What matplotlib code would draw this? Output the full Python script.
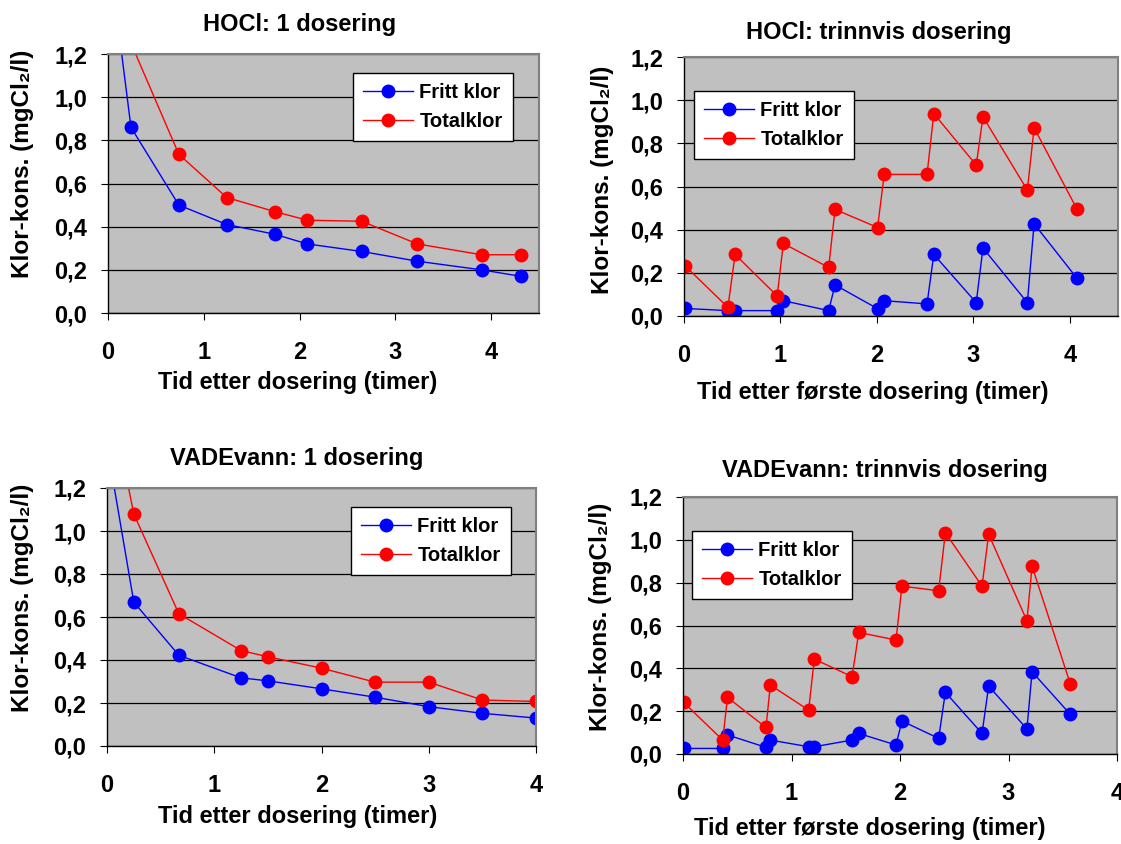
""" Klor-konsentrasjon etter dosering: HOCl og VADEvann, 1 dosering og trinnvis dosering. """
import matplotlib.pyplot as plt

# HOCl: 1 dosering
hocl1_t_fritt = [0.0, 0.24, 0.74, 1.24, 1.74, 2.08, 2.65, 3.23, 3.90, 4.31]
hocl1_fritt = [1.70, 0.86, 0.50, 0.41, 0.365, 0.32, 0.285, 0.24, 0.20, 0.17]
hocl1_t_total = [0.24, 0.74, 1.24, 1.74, 2.08, 2.65, 3.23, 3.90, 4.31]
hocl1_total = [1.25, 0.735, 0.535, 0.47, 0.43, 0.425, 0.32, 0.27, 0.27]

# HOCl: trinnvis dosering
hoclt_t = [0.01, 0.455, 0.53, 0.966, 1.03, 1.50, 1.566, 2.007, 2.076,
           2.52, 2.59, 3.03, 3.10, 3.56, 3.63, 4.076]
hoclt_fritt = [0.035, 0.025, 0.025, 0.025, 0.071, 0.025, 0.144, 0.034, 0.071,
               0.056, 0.285, 0.062, 0.315, 0.062, 0.427, 0.174]
hoclt_total = [0.233, 0.040, 0.285, 0.093, 0.336, 0.225, 0.494, 0.41, 0.656,
               0.656, 0.938, 0.699, 0.923, 0.583, 0.872, 0.494]

# VADEvann: 1 dosering
vade1_t = [0.0, 0.25, 0.67, 1.25, 1.5, 2.0, 2.5, 3.0, 3.5, 4.0]
vade1_fritt = [1.40, 0.669, 0.422, 0.317, 0.303, 0.266, 0.227, 0.183, 0.152, 0.130]
vade1_total = [1.70, 1.079, 0.615, 0.444, 0.415, 0.362, 0.297, 0.297, 0.214, 0.207]

# VADEvann: trinnvis dosering
vadet_t = [0.006, 0.366, 0.41, 0.765, 0.805, 1.158, 1.21, 1.558, 1.62,
           1.963, 2.018, 2.356, 2.418, 2.756, 2.817, 3.17, 3.217, 3.57]
vadet_fritt = [0.026, 0.026, 0.089, 0.031, 0.065, 0.034, 0.034, 0.065, 0.096,
               0.042, 0.154, 0.073, 0.288, 0.096, 0.317, 0.117, 0.384, 0.185]
vadet_total = [0.241, 0.065, 0.264, 0.124, 0.322, 0.205, 0.443, 0.361, 0.568,
               0.532, 0.784, 0.762, 1.033, 0.784, 1.026, 0.622, 0.877, 0.327]

y_ticks = [0.0, 0.2, 0.4, 0.6, 0.8, 1.0, 1.2]
y_ticklabels = ['0,0', '0,2', '0,4', '0,6', '0,8', '1,0', '1,2']
x_ticks = [0, 1, 2, 3, 4]

W, H = 1121, 844
FONT = ['Liberation Sans', 'DejaVu Sans']
plt.rcParams['font.family'] = FONT
plt.rcParams['font.weight'] = 'bold'


def px_rect(left, top, right, bottom):
    return [left / W, 1 - bottom / H, (right - left) / W, (bottom - top) / H]


def draw_panel(fig, rect, xmax, t_fritt, fritt, t_total, total, legend_xy,
               title, title_xy, xlabel, xlabel_xy, ylabel_xy):
    ax = fig.add_axes(rect)
    ax.set_facecolor('#C0C0C0')
    ax.plot(t_fritt, fritt, color='#0000FF', lw=1.0, marker='o', ms=9,
            label='Fritt klor')
    ax.plot(t_total, total, color='#FF0000', lw=1.0, marker='o', ms=9,
            label='Totalklor')
    ax.set_xlim(0, xmax)
    ax.set_ylim(0, 1.2)
    ax.set_yticks(y_ticks)
    ax.set_yticklabels(y_ticklabels)
    ax.set_xticks(x_ticks)
    ax.grid(axis='y', color='black', lw=0.9)
    ax.set_axisbelow(True)
    for side in ('top', 'right'):
        ax.spines[side].set_color('#808080')
        ax.spines[side].set_linewidth(1.5)
    for side in ('left', 'bottom'):
        ax.spines[side].set_color('black')
        ax.spines[side].set_linewidth(1.0)
    ax.tick_params(axis='y', length=5, pad=10, labelsize=17)
    ax.tick_params(axis='x', length=5, pad=15, labelsize=17)
    for lab in ax.get_xticklabels() + ax.get_yticklabels():
        lab.set_fontweight('bold')

    ax.legend(loc='upper left',
              bbox_to_anchor=(legend_xy[0] / W, 1 - legend_xy[1] / H),
              bbox_transform=fig.transFigure, borderaxespad=0,
              fancybox=False, framealpha=1, edgecolor='black',
              prop={'size': 14.5, 'weight': 'bold'}, handlelength=2.5,
              handletextpad=0.3, labelspacing=0.5, borderpad=0.5)

    fig.text(title_xy[0] / W, 1 - title_xy[1] / H, title, ha='center',
             va='center', fontsize=17, fontweight='bold')
    fig.text(xlabel_xy[0] / W, 1 - xlabel_xy[1] / H, xlabel, ha='center',
             va='center', fontsize=17, fontweight='bold')
    fig.text(ylabel_xy[0] / W, 1 - ylabel_xy[1] / H, 'Klor-kons. (mgCl₂/l)',
             ha='center', va='center', rotation=90, fontsize=17.5,
             fontweight='bold')
    return ax


def main():
    fig = plt.figure(figsize=(W / 100, H / 100), dpi=100)

    draw_panel(fig, px_rect(108, 54, 539, 313), 4.5,
               hocl1_t_fritt, hocl1_fritt, hocl1_t_total, hocl1_total,
               (353, 73), 'HOCl: 1 dosering', (300, 25),
               'Tid etter dosering (timer)', (298, 383), (23, 164))

    draw_panel(fig, px_rect(684, 57, 1118, 316), 4.5,
               hoclt_t, hoclt_fritt, hoclt_t, hoclt_total,
               (694, 91), 'HOCl: trinnvis dosering', (879, 32),
               'Tid etter første dosering (timer)', (873, 392), (602, 180))

    draw_panel(fig, px_rect(107, 488, 536, 746), 4.0,
               vade1_t, vade1_fritt, vade1_t, vade1_total,
               (351, 507), 'VADEvann: 1 dosering', (297, 458),
               'Tid etter dosering (timer)', (298, 817), (23, 598))

    draw_panel(fig, px_rect(683, 497, 1117, 754), 4.0,
               vadet_t, vadet_fritt, vadet_t, vadet_total,
               (692, 531), 'VADEvann: trinnvis dosering', (885, 470),
               'Tid etter første dosering (timer)', (870, 828), (600, 617))

    fig.savefig('out.png', dpi=100)


if __name__ == '__main__':
    main()
